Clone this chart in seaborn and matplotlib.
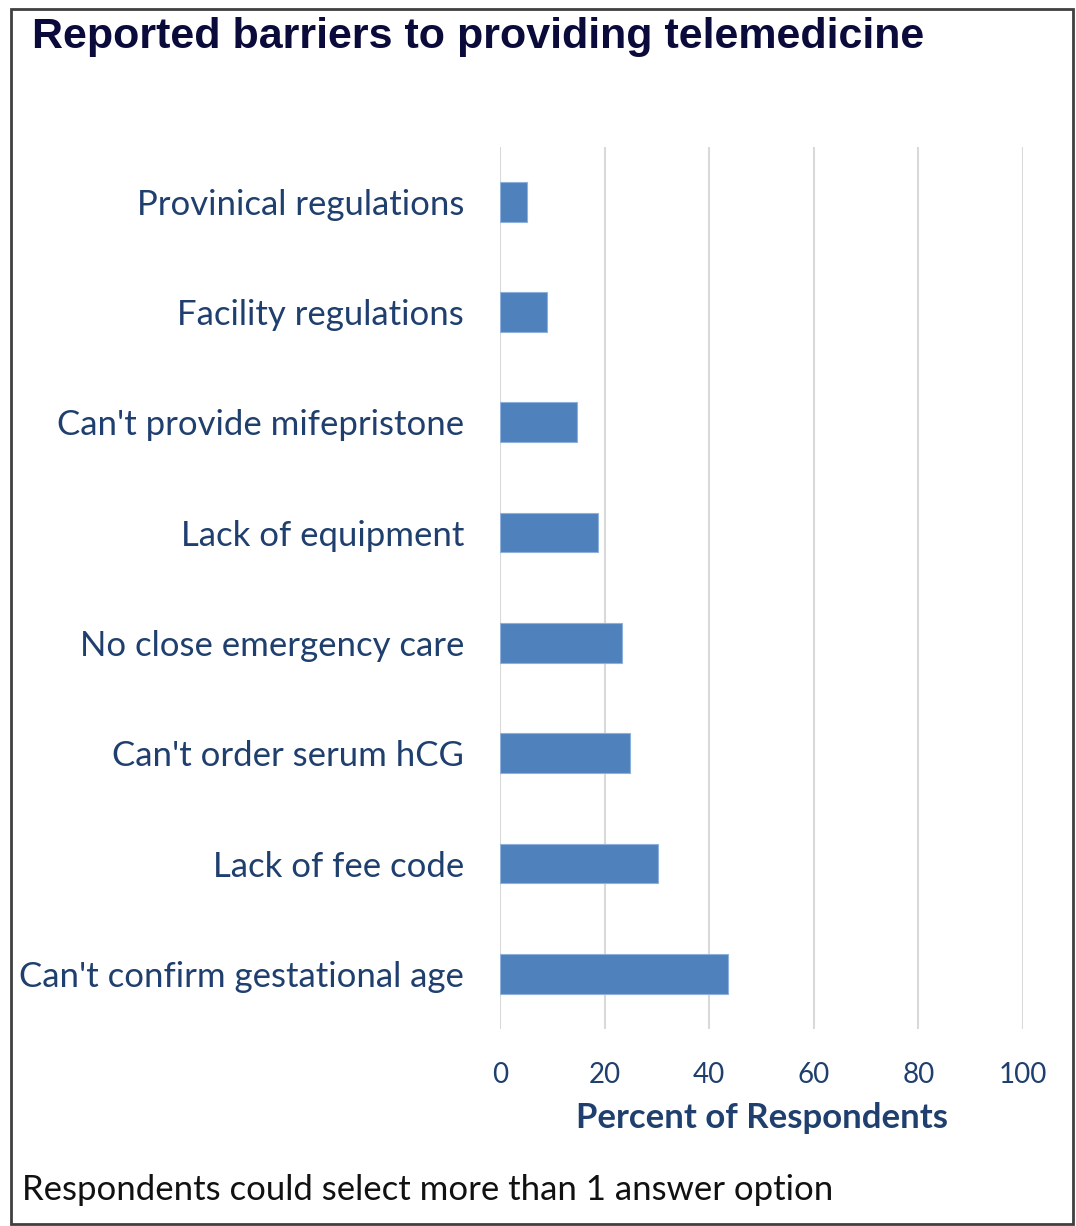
import matplotlib
matplotlib.use("Agg")
import matplotlib.pyplot as plt
from matplotlib.patches import Rectangle
import seaborn as sns
import pandas as pd

# Survey results: share of respondents reporting each barrier
barriers = [
    "Provinical regulations",
    "Facility regulations",
    "Can't provide mifepristone",
    "Lack of equipment",
    "No close emergency care",
    "Can't order serum hCG",
    "Lack of fee code",
    "Can't confirm gestational age",
]
percent = [5.1, 9.0, 14.8, 18.7, 23.3, 24.8, 30.3, 43.5]
x_ticks = [0, 20, 40, 60, 80, 100]

df = pd.DataFrame({"barrier": barriers, "percent": percent})

sns.set_theme(style="white")
plt.rcParams["font.family"] = ["Lato", "DejaVu Sans"]

label_color = "#1f3f6e"
bar_color = "#4f81bd"

fig = plt.figure(figsize=(10.76, 12.26), dpi=100)
ax = fig.add_axes([500 / 1076, 1 - 1029 / 1226, 523 / 1076, (1029 - 146.5) / 1226])

sns.barplot(data=df, x="percent", y="barrier", orient="h", color=bar_color,
            width=0.36, saturation=1, ax=ax, zorder=3,
            edgecolor="#8fb0da", linewidth=0.8)

ax.set_xlim(0, 100)
ax.set_xticks(x_ticks)
ax.set_xticklabels([str(t) for t in x_ticks])
ax.grid(axis="x", color="#d9d9d9", linewidth=1.5, zorder=0)
ax.grid(axis="y", visible=False)
for s in ax.spines.values():
    s.set_visible(False)
ax.tick_params(axis="both", length=0)
ax.tick_params(axis="y", labelsize=25, labelcolor=label_color, pad=26)
ax.tick_params(axis="x", labelsize=20, labelcolor=label_color, pad=24)
ax.set_ylabel("")
ax.set_xlabel("Percent of Respondents", fontsize=25, fontweight="bold",
              color=label_color, labelpad=10)

fig.text(32 / 1076, 1 - 37 / 1226, "Reported barriers to providing telemedicine",
         fontsize=31, fontweight="bold", color="#0b0b3b", va="center", ha="left",
         family=["Liberation Sans", "DejaVu Sans"])
fig.text(22 / 1076, 1 - 1190 / 1226, "Respondents could select more than 1 answer option",
         fontsize=25, color="#111111", va="center", ha="left")

# Frame around the whole chart
fig.patches.append(Rectangle((11 / 1076, 1 - 1224 / 1226), (1073 - 11) / 1076,
                             (1224 - 9) / 1226, transform=fig.transFigure,
                             fill=False, edgecolor="#404040", linewidth=2))

fig.savefig("out.png", dpi=100)
